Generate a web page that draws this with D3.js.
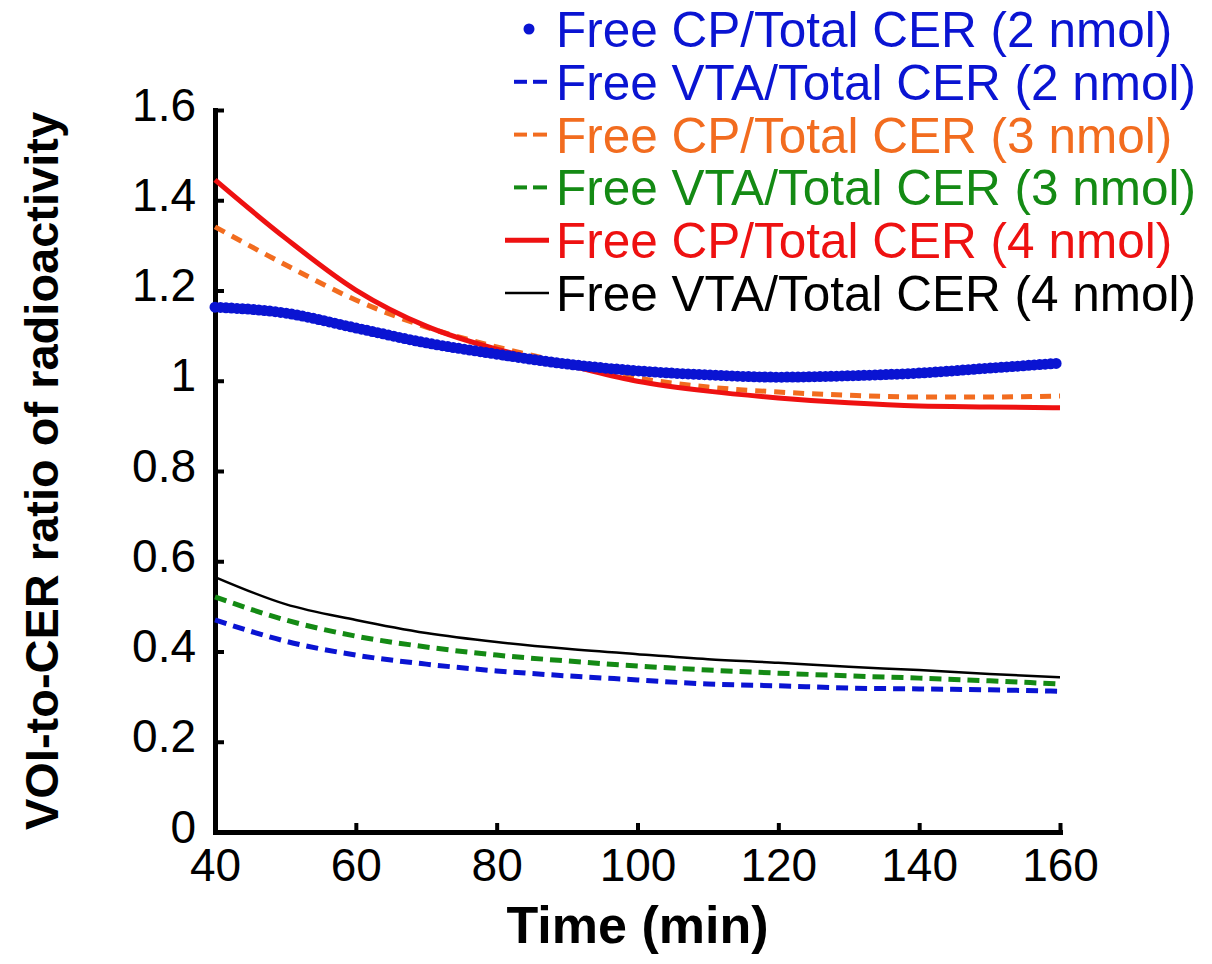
<!DOCTYPE html>
<html>
<head>
<meta charset="utf-8">
<script src="https://cdn.jsdelivr.net/npm/d3@7"></script>
<style>
  html, body { margin: 0; padding: 0; background: #ffffff; }
  svg { display: block; font-family: Arial, "Liberation Sans", sans-serif; }
</style>
</head>
<body>
<svg id="chart" width="1212" height="964"></svg>
<script>
// Sampling times (min)
const times = [40, 50, 60, 70, 80, 90, 100, 110, 120, 130, 140, 150, 160];

// VOI-to-CER ratios for each series
const cp2  = [1.163, 1.150, 1.117, 1.084, 1.059, 1.037, 1.022, 1.013, 1.008, 1.011, 1.017, 1.028, 1.039];
const vta2 = [0.470, 0.423, 0.392, 0.372, 0.357, 0.346, 0.337, 0.328, 0.324, 0.319, 0.317, 0.315, 0.312];
const cp3  = [1.341, 1.257, 1.179, 1.119, 1.075, 1.039, 1.006, 0.986, 0.975, 0.968, 0.964, 0.964, 0.966];
const vta3 = [0.521, 0.470, 0.434, 0.410, 0.392, 0.379, 0.368, 0.359, 0.352, 0.346, 0.341, 0.335, 0.328];
const cp4  = [1.445, 1.316, 1.201, 1.121, 1.070, 1.035, 0.999, 0.977, 0.962, 0.951, 0.944, 0.942, 0.940];
const vta4 = [0.565, 0.505, 0.470, 0.441, 0.421, 0.406, 0.394, 0.383, 0.375, 0.366, 0.359, 0.350, 0.343];

const seriesNames = [
  "Free CP/Total CER (2 nmol)",
  "Free VTA/Total CER (2 nmol)",
  "Free CP/Total CER (3 nmol)",
  "Free VTA/Total CER (3 nmol)",
  "Free CP/Total CER (4 nmol)",
  "Free VTA/Total CER (4 nmol)"
];

const xTicks = [40, 60, 80, 100, 120, 140, 160];
const yTicks = [0, 0.2, 0.4, 0.6, 0.8, 1.0, 1.2, 1.4, 1.6];

// Line styles per series
const styles = [
  { color: "#0a14d2", width: 11, dash: "0 5.5", cap: "round", legend: "dot" },
  { color: "#0a14d2", width: 5, dash: "12 7", cap: "butt", legend: "dash" },
  { color: "#f26c1f", width: 5, dash: "11 8", cap: "butt", legend: "dash" },
  { color: "#148a14", width: 5, dash: "12 7", cap: "butt", legend: "dash" },
  { color: "#ee1111", width: 5, dash: null, cap: "butt", legend: "line" },
  { color: "#000000", width: 2.5, dash: null, cap: "butt", legend: "line" }
];

const seriesValues = [cp2, vta2, cp3, vta3, cp4, vta4];

const svg = d3.select("#chart");

const x = d3.scaleLinear().domain([40, 160]).range([215, 1060]);
const y = d3.scaleLinear().domain([0, 1.6]).range([832, 110]);

// Axes: ticks point into the plot area
const xAxis = d3.axisBottom(x).tickValues(xTicks).tickSizeInner(-9).tickSizeOuter(0)
  .tickFormat(d3.format("d")).tickPadding(0);
const yAxis = d3.axisLeft(y).tickValues(yTicks).tickSizeInner(-9).tickSizeOuter(0)
  .tickFormat(d => d3.format("")(+d.toFixed(1))).tickPadding(0);

const gx = svg.append("g").attr("transform", `translate(0,${y(0)})`).call(xAxis);
const gy = svg.append("g").attr("transform", `translate(${x(40)},0)`).call(yAxis);

[gx, gy].forEach(g => {
  g.select(".domain").attr("stroke", "#000").attr("stroke-width", 5).attr("stroke-linecap", "square");
  g.selectAll(".tick line").attr("stroke", "#000").attr("stroke-width", 4);
  g.selectAll(".tick text").attr("fill", "#000").attr("font-size", 46)
    .attr("font-family", "Arial, 'Liberation Sans', sans-serif");
});
gx.selectAll(".tick text").attr("y", 49).attr("dy", 0);
gy.selectAll(".tick text").attr("x", -19).attr("dy", "0.22em");

// Axis titles
svg.append("text")
  .attr("x", x(100)).attr("y", 943)
  .attr("text-anchor", "middle")
  .attr("font-size", 52).attr("font-weight", "bold")
  .text("Time (min)");

svg.append("text")
  .attr("transform", `translate(58,${(y(0) + y(1.6)) / 2}) rotate(-90)`)
  .attr("text-anchor", "middle")
  .attr("font-size", 47).attr("font-weight", "bold")
  .text("VOI-to-CER ratio of radioactivity");

// Curves
const line = d3.line()
  .x((d, i) => x(times[i]))
  .y(d => y(d))
  .curve(d3.curveMonotoneX);

const plotOrder = [5, 3, 1, 2, 4, 0];
plotOrder.forEach(k => {
  const s = styles[k];
  svg.append("path")
    .datum(seriesValues[k])
    .attr("d", line)
    .attr("fill", "none")
    .attr("stroke", s.color)
    .attr("stroke-width", s.width)
    .attr("stroke-linecap", s.cap)
    .attr("stroke-linejoin", "round")
    .attr("stroke-dasharray", s.dash);
});

// Legend
const legend = svg.append("g");
const legendX = 556, legendY0 = 47, legendStep = 52.8;
seriesNames.forEach((name, i) => {
  const s = styles[i];
  const by = legendY0 + i * legendStep;
  const my = by - 18;
  if (s.legend === "dot") {
    legend.append("circle").attr("cx", 529).attr("cy", my).attr("r", 5.5).attr("fill", s.color);
  } else if (s.legend === "dash") {
    [[514, 527], [533, 547]].forEach(([a, b]) => {
      legend.append("line").attr("x1", a).attr("x2", b).attr("y1", my).attr("y2", my)
        .attr("stroke", s.color).attr("stroke-width", 4);
    });
  } else {
    legend.append("line").attr("x1", 505).attr("x2", 549).attr("y1", my).attr("y2", my)
      .attr("stroke", s.color).attr("stroke-width", s.width);
  }
  legend.append("text")
    .attr("x", legendX).attr("y", by)
    .attr("font-size", 49.5)
    .attr("fill", s.color)
    .text(name);
});
</script>
</body>
</html>
